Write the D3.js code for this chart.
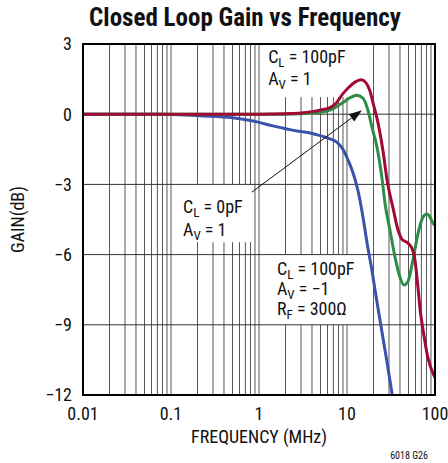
<!DOCTYPE html>
<html><head><meta charset="utf-8">
<script src="https://cdn.jsdelivr.net/npm/d3@7"></script>
<style>
body{margin:0;background:#fff}
svg{display:block}
text{font-family:"Liberation Sans Narrow","Arial Narrow","Roboto Condensed","Liberation Sans",sans-serif;fill:#111}
</style>
</head><body>
<svg id="chart" width="448" height="463"></svg>
<script>
// ---- data ----
const xTickValues = [0.01, 0.1, 1, 10, 100];
const xTickLabels = ["0.01", "0.1", "1", "10", "100"];
const yTickValues = [3, 0, -3, -6, -9, -12];
const yTickLabels = ["3", "0", "\u22123", "\u22126", "\u22129", "\u221212"];

// CL = 100pF, AV = 1 (red)
const freqRed = [0.01, 0.1, 1, 2, 3, 4, 5, 6.4, 7.3, 9, 10.5, 12.3, 14.5, 16.3, 18.2, 19.8, 21.9, 23.7, 25.6, 28.5, 33.3, 38, 42.2, 49, 55, 59, 64, 68, 73, 83, 97, 100];
const gainRed = [0, 0, 0, 0.02, 0.05, 0.11, 0.18, 0.28, 0.42, 0.88, 1.15, 1.37, 1.47, 1.36, 1.0, 0.47, -0.17, -0.8, -1.55, -2.8, -4.0, -4.95, -5.35, -5.5, -5.75, -6.2, -7.4, -8.4, -9.2, -10.4, -11.15, -11.25];

// CL = 0pF, AV = 1 (green)
const freqGreen = [0.01, 0.1, 1, 2, 3, 4, 5, 6.4, 9, 11, 12.9, 15.2, 17.3, 19.2, 21.9, 25.2, 27, 30.8, 35.1, 40, 44.4, 49.3, 56.3, 64.1, 73.1, 81.1, 87.7, 94.8, 100];
const gainGreen = [0, 0, 0, 0, 0.02, 0.05, 0.08, 0.17, 0.5, 0.72, 0.81, 0.68, 0.17, -0.55, -1.4, -2.85, -3.8, -4.96, -6.1, -6.97, -7.3, -7.15, -6.2, -5.1, -4.4, -4.27, -4.4, -4.66, -4.75];

// CL = 100pF, AV = -1, RF = 300 ohm (blue)
const freqBlue = [0.01, 0.05, 0.1, 0.21, 0.5, 0.8, 1.0, 1.44, 1.9, 2.25, 3.0, 3.8, 5.3, 6.4, 7.7, 9.0, 10.3, 11.7, 13.3, 15.2, 16.9, 19.2, 21, 23.7, 28.5, 33];
const gainBlue = [0, 0, -0.01, -0.07, -0.15, -0.27, -0.35, -0.5, -0.6, -0.66, -0.74, -0.8, -0.95, -1.05, -1.2, -1.5, -1.97, -2.5, -3.25, -4.4, -5.5, -6.67, -7.6, -8.8, -10.6, -12.1];

const seriesColors = {red: "#a00a33", green: "#2f8c47", blue: "#3a52aa"};

// ---- layout ----
const W = 448, H = 463;
const m = {left: 83, top: 44, right: 13, bottom: 68};
const pw = W - m.left - m.right, ph = H - m.top - m.bottom;

const svg = d3.select("#chart");
const x = d3.scaleLog().domain([0.01, 100]).range([m.left, m.left + pw]);
const y = d3.scaleLinear().domain([-12, 3]).range([m.top + ph, m.top]);

// title
svg.append("text").attr("x", 245).attr("y", 26).attr("text-anchor", "middle")
  .style("font-size", "25px").style("font-weight", "bold").text("Closed Loop Gain vs Frequency");

const g = svg.append("g");

// vertical grid (every 1..9 per decade)
g.append("g").selectAll("line").data(x.ticks()).join("line")
  .attr("x1", d => x(d)).attr("x2", d => x(d))
  .attr("y1", y(3)).attr("y2", y(-12))
  .attr("stroke", "#555").attr("stroke-width", 1);

// white label boxes masking the vertical grid (data coords)
const boxes = [
  {f0: 1.08, f1: 11.4, g0: 3, g1: 0.73},
  {f0: 0.112, f1: 0.86, g0: -3, g1: -5.47},
  {f0: 1.33, f1: 13.5, g0: -6, g1: -9}
];
g.append("g").selectAll("rect").data(boxes).join("rect")
  .attr("x", d => x(d.f0)).attr("width", d => x(d.f1) - x(d.f0))
  .attr("y", d => y(d.g0)).attr("height", d => y(d.g1) - y(d.g0))
  .attr("fill", "#fff");

// horizontal grid
g.append("g").selectAll("line").data(yTickValues.slice(1, -1)).join("line")
  .attr("x1", x(0.01)).attr("x2", x(100))
  .attr("y1", d => y(d)).attr("y2", d => y(d))
  .attr("stroke", "#333").attr("stroke-width", 1);

// clip
svg.append("clipPath").attr("id", "clip").append("rect")
  .attr("x", m.left).attr("y", m.top).attr("width", pw).attr("height", ph);

const line = d3.line().x(d => x(d[0])).y(d => y(d[1])).curve(d3.curveMonotoneX);
const series = {
  red: d3.zip(freqRed, gainRed),
  green: d3.zip(freqGreen, gainGreen),
  blue: d3.zip(freqBlue, gainBlue)
};
const curves = svg.append("g").attr("clip-path", "url(#clip)");
["blue", "green", "red"].forEach(k => {
  curves.append("path").datum(series[k]).attr("d", line)
    .attr("fill", "none").attr("stroke", seriesColors[k]).attr("stroke-width", 3)
    .attr("stroke-linejoin", "round");
});

// frame
svg.append("rect").attr("x", m.left).attr("y", m.top).attr("width", pw).attr("height", ph)
  .attr("fill", "none").attr("stroke", "#000").attr("stroke-width", 2);

// y tick labels
svg.append("g").selectAll("text").data(yTickValues).join("text")
  .attr("x", m.left - 11).attr("y", d => y(d)).attr("dy", "0.35em")
  .attr("text-anchor", "end").style("font-size", "18px")
  .text((d, i) => yTickLabels[i]);

// x tick labels
svg.append("g").selectAll("text").data(xTickValues).join("text")
  .attr("x", d => x(d)).attr("y", y(-12) + 25)
  .attr("text-anchor", "middle").style("font-size", "18px")
  .text((d, i) => xTickLabels[i]);

// axis titles
svg.append("text").attr("x", (x(0.01) + x(100)) / 2).attr("y", 443)
  .attr("text-anchor", "middle").style("font-size", "18px").text("FREQUENCY (MHz)");
svg.append("text").attr("transform", `translate(24,${(y(3) + y(-12)) / 2}) rotate(-90)`)
  .attr("text-anchor", "middle").style("font-size", "18px").text("GAIN(dB)");
svg.append("text").attr("x", 428).attr("y", 459).attr("text-anchor", "end")
  .style("font-size", "10px").text("6018 G26");

// annotations
function label(f, gain, main, sub, rest) {
  const t = svg.append("text").attr("x", x(f)).attr("y", y(gain)).style("font-size", "18px");
  t.append("tspan").text(main);
  t.append("tspan").attr("dy", 4).style("font-size", "13px").text(sub);
  t.append("tspan").attr("dy", -4).text(rest);
}
label(1.27, 2.18, "C", "L", " = 100pF");
label(1.27, 1.24, "A", "V", " = 1");
label(0.137, -4.23, "C", "L", " = 0pF");
label(0.137, -5.21, "A", "V", " = 1");
label(1.6, -6.88, "C", "L", " = 100pF");
label(1.6, -7.74, "A", "V", " = \u22121");
label(1.6, -8.59, "R", "F", " = 300\u03A9");

// arrow
const arrow = {f0: 0.83, g0: -3.33, f1: 14.8, g1: 0.17};
const ax0 = x(arrow.f0), ay0 = y(arrow.g0), ax1 = x(arrow.f1), ay1 = y(arrow.g1);
const ang = Math.atan2(ay1 - ay0, ax1 - ax0);
const hl = 13, hw = 4.5;
const bx = ax1 - hl * Math.cos(ang), by = ay1 - hl * Math.sin(ang);
svg.append("line").attr("x1", ax0).attr("y1", ay0).attr("x2", bx).attr("y2", by)
  .attr("stroke", "#111").attr("stroke-width", 1);
svg.append("path")
  .attr("d", `M${ax1},${ay1}L${bx + hw * Math.sin(ang)},${by - hw * Math.cos(ang)}L${bx - hw * Math.sin(ang)},${by + hw * Math.cos(ang)}Z`)
  .attr("fill", "#111");
</script>
</body></html>
